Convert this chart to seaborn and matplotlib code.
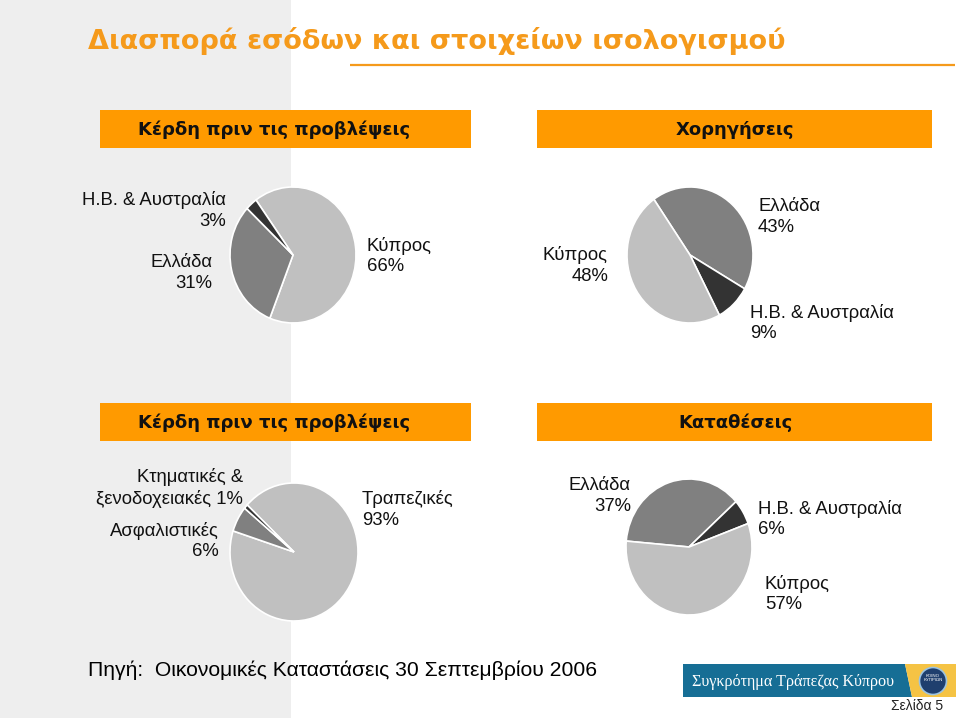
import matplotlib
matplotlib.use("Agg")
import matplotlib.pyplot as plt
import seaborn as sns
from matplotlib.patches import Rectangle, Polygon, Circle

sns.set_theme(style="white")
plt.rcParams['font.family'] = ['Liberation Sans', 'DejaVu Sans']

# ---------------- data ----------------
title = "Διασπορά εσόδων και στοιχείων ισολογισμού"
panel_titles = ["Κέρδη πριν τις προβλέψεις", "Χορηγήσεις",
                "Κέρδη πριν τις προβλέψεις", "Καταθέσεις"]

profit_geo_labels = ["Κύπρος", "Ελλάδα", "Η.Β. & Αυστραλία"]
profit_geo_values = [66, 31, 3]

loans_labels = ["Ελλάδα", "Η.Β. & Αυστραλία", "Κύπρος"]
loans_values = [43, 9, 48]

profit_sector_labels = ["Τραπεζικές", "Ασφαλιστικές", "Κτηματικές &\nξενοδοχειακές"]
profit_sector_values = [93, 6, 1]

deposits_labels = ["Ελλάδα", "Η.Β. & Αυστραλία", "Κύπρος"]
deposits_values = [37, 6, 57]

source_text = "Πηγή:  Οικονομικές Καταστάσεις 30 Σεπτεμβρίου 2006"
bank_name = "Συγκρότημα Τράπεζας Κύπρου"
page_text = "Σελίδα 5"

# ---------------- style ----------------
W, H = 960, 718
ORANGE = "#FF9A00"
TITLE_ORANGE = "#F59A1B"
greys = sns.color_palette(["#C0C0C0", "#808080", "#333333"])
color_map = {"Κύπρος": greys[0], "Ελλάδα": greys[1], "Η.Β. & Αυστραλία": greys[2],
             "Τραπεζικές": greys[0], "Ασφαλιστικές": greys[1],
             "Κτηματικές &\nξενοδοχειακές": greys[2]}

fig = plt.figure(figsize=(W / 100, H / 100), dpi=100)
fig.patch.set_facecolor("white")
bg = fig.add_axes([0, 0, 1, 1])
bg.set_xlim(0, W)
bg.set_ylim(H, 0)
bg.axis("off")

# left grey panel
bg.add_patch(Rectangle((0, 0), 291, H, facecolor="#EEEEEE", edgecolor="none", zorder=0))

# title + underline
bg.text(88, 49, title, color=TITLE_ORANGE, fontsize=19.5, fontweight="bold",
        family=["DejaVu Sans"], ha="left", va="baseline", zorder=3)
bg.plot([350, 955], [65, 65], color=TITLE_ORANGE, lw=1.6, zorder=2, solid_capstyle="butt")

# orange header bars
bars = [(100, 110, 371, 38, 274), (537, 110, 395, 38, 735),
        (100, 403, 371, 38, 274), (537, 403, 395, 38, 735)]
for (x, y, w, h, tx), t in zip(bars, panel_titles):
    bg.add_patch(Rectangle((x, y), w, h, facecolor=ORANGE, edgecolor="none", zorder=2))
    bg.text(tx, y + h / 2 + 1, t, color="#111111", fontsize=13, fontweight="bold",
            family=["DejaVu Sans"], ha="center", va="center", zorder=3)

# ---------------- pies ----------------
def pie_axes(cx, cy, rx, ry):
    pad = 1.03
    return fig.add_axes([(cx - rx * pad) / W, 1 - (cy + ry * pad) / H,
                         2 * rx * pad / W, 2 * ry * pad / H])

pies = [
    dict(labels=profit_geo_labels, values=profit_geo_values, c=(293, 255), r=(63, 68),
         start=126,
         pos=[(367, 256, "left", "\n"), (212, 273, "right", "\n"), (226, 210.5, "right", "\n")]),
    dict(labels=loans_labels, values=loans_values, c=(690, 255), r=(63, 68),
         start=125,
         pos=[(758, 217, "left", "\n"), (750, 323, "left", "\n"), (608, 265.5, "right", "\n")]),
    dict(labels=profit_sector_labels, values=profit_sector_values, c=(294, 552), r=(64, 69),
         start=137,
         pos=[(362, 509.5, "left", "\n"), (219, 541, "right", "\n"), (243, 488, "right", " ")]),
    dict(labels=deposits_labels, values=deposits_values, c=(689, 547), r=(63, 68),
         start=175,
         pos=[(631, 496, "right", "\n"), (758, 519, "left", "\n"), (765, 594, "left", "\n")]),
]

for p in pies:
    ax = pie_axes(p["c"][0], p["c"][1], p["r"][0], p["r"][1])
    ax.pie(p["values"], colors=[color_map[l] for l in p["labels"]],
           startangle=p["start"], counterclock=False,
           wedgeprops=dict(edgecolor="white", linewidth=1.2))
    ax.set_aspect("auto")
    ax.set_xlim(-1.03, 1.03)
    ax.set_ylim(-1.03, 1.03)
    ax.axis("off")
    for lab, val, (x, y, ha, sep) in zip(p["labels"], p["values"], p["pos"]):
        bg.text(x, y, f"{lab}{sep}{val}%", fontsize=13.3, color="#111111",
                ha=ha, va="center", linespacing=1.3, zorder=3)

# ---------------- footer ----------------
bg.text(88, 676, source_text, fontsize=15.2, color="black", ha="left", va="baseline", zorder=3)

# bank logo bar
bg.add_patch(Polygon([(683, 664), (905, 664), (912, 697), (683, 697)],
                     closed=True, facecolor="#166E95", edgecolor="none", zorder=2))
bg.add_patch(Polygon([(905, 664), (956, 664), (956, 697), (912, 697)],
                     closed=True, facecolor="#F5C344", edgecolor="none", zorder=2))
bg.text(692, 682, bank_name, fontsize=11.6, color="white", family=["Liberation Serif"],
        ha="left", va="center", zorder=3)
bg.add_patch(Circle((933, 681), 13.5, facecolor="#1F3F6E", edgecolor="#9CC3E0",
                    linewidth=1.2, zorder=3))
bg.text(933, 678, "ΚΟΙΝΟ\nΚΥΠΡΙΩΝ", fontsize=3.2, color="white", ha="center",
        va="center", linespacing=1.0, zorder=4)

bg.text(943, 706, page_text, fontsize=10, color="#222222", ha="right", va="center", zorder=3)

fig.savefig("out.png", dpi=100, facecolor="white")
